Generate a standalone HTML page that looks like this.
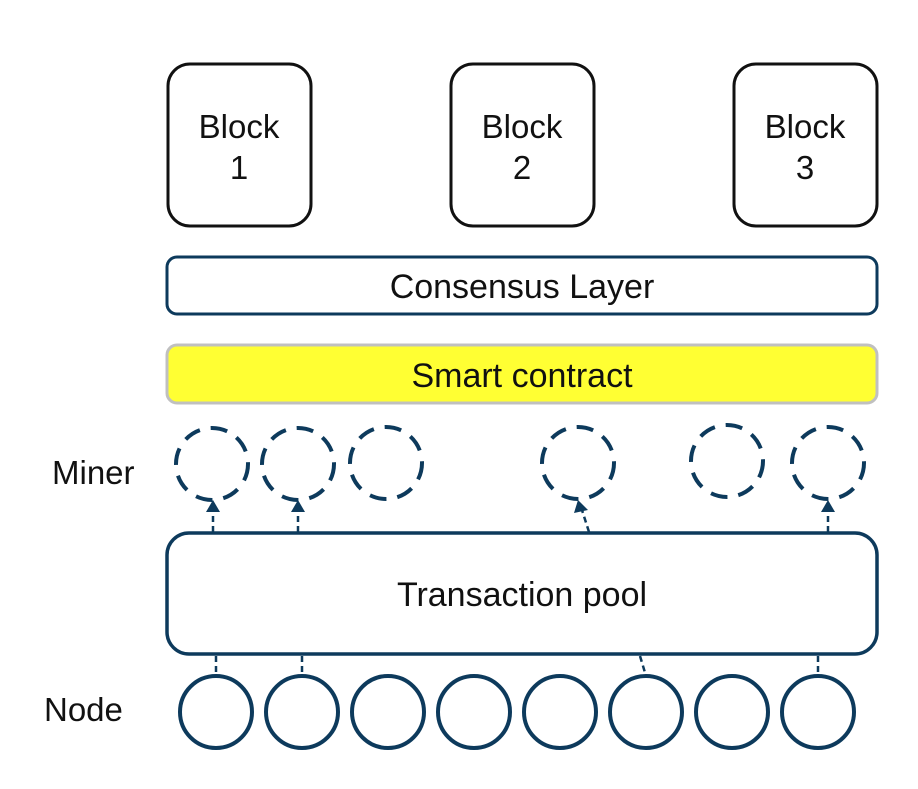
<!DOCTYPE html>
<html><head><meta charset="utf-8"><style>
html,body{margin:0;padding:0;background:#fff;}
svg{display:block;}
text{font-family:"Liberation Sans",Arial,sans-serif;fill:#111;}
</style></head><body>
<svg width="918" height="789" viewBox="0 0 918 789" xmlns="http://www.w3.org/2000/svg">
<rect width="918" height="789" fill="#fff"/>
<g fill="#fff" stroke="#111" stroke-width="3">
<rect x="168" y="64" width="143" height="162" rx="22"/>
<rect x="451" y="64" width="143" height="162" rx="22"/>
<rect x="734" y="64" width="143" height="162" rx="22"/>
</g>
<g font-size="33" text-anchor="middle">
<text x="239" y="138">Block</text><text x="239" y="179">1</text>
<text x="522" y="138">Block</text><text x="522" y="179">2</text>
<text x="805" y="138">Block</text><text x="805" y="179">3</text>
</g>
<rect x="167" y="257" width="710" height="57" rx="10" fill="#fff" stroke="#0d3a5c" stroke-width="3"/>
<text x="522" y="298" font-size="34" text-anchor="middle">Consensus Layer</text>
<rect x="167" y="345" width="710" height="58" rx="10" fill="#ffff33" stroke="#c0c0c0" stroke-width="3"/>
<text x="522" y="387" font-size="34" text-anchor="middle">Smart contract</text>
<g fill="none" stroke="#0d3a5c" stroke-width="4" stroke-dasharray="17 11">
<circle cx="212" cy="464" r="36"/>
<circle cx="298" cy="464" r="36"/>
<circle cx="386" cy="463" r="36"/>
<circle cx="578" cy="463" r="36"/>
<circle cx="727" cy="461" r="36"/>
<circle cx="828" cy="463" r="36"/>
</g>
<g stroke="#0d3a5c" stroke-width="2.5" stroke-dasharray="6 4" fill="none">
<line x1="213" y1="532" x2="213" y2="510"/>
<line x1="298" y1="532" x2="298" y2="510"/>
<line x1="589" y1="532" x2="582" y2="510"/>
<line x1="828" y1="532" x2="828" y2="510"/>
</g>
<g fill="#0d3a5c">
<path d="M206,512 L213,500 L220,512 Z"/>
<path d="M291,512 L298,500 L305,512 Z"/>
<path d="M574,513 L578,500 L588,510 Z"/>
<path d="M821,512 L828,500 L835,512 Z"/>
</g>
<rect x="167" y="533" width="710" height="121" rx="22" fill="#fff" stroke="#0d3a5c" stroke-width="3.5"/>
<text x="522" y="606" font-size="34" text-anchor="middle">Transaction pool</text>
<g stroke="#0d3a5c" stroke-width="2.5" stroke-dasharray="6 4">
<line x1="216" y1="656" x2="216" y2="676"/>
<line x1="302" y1="656" x2="302" y2="676"/>
<line x1="640" y1="656" x2="646" y2="676"/>
<line x1="818" y1="656" x2="818" y2="676"/>
</g>
<g fill="none" stroke="#0d3a5c" stroke-width="4">
<circle cx="216" cy="712" r="36"/>
<circle cx="302" cy="712" r="36"/>
<circle cx="388" cy="712" r="36"/>
<circle cx="474" cy="712" r="36"/>
<circle cx="560" cy="712" r="36"/>
<circle cx="646" cy="712" r="36"/>
<circle cx="732" cy="712" r="36"/>
<circle cx="818" cy="712" r="36"/>
</g>
<text x="52" y="484" font-size="33">Miner</text>
<text x="44" y="721" font-size="33">Node</text>
</svg>
</body></html>
